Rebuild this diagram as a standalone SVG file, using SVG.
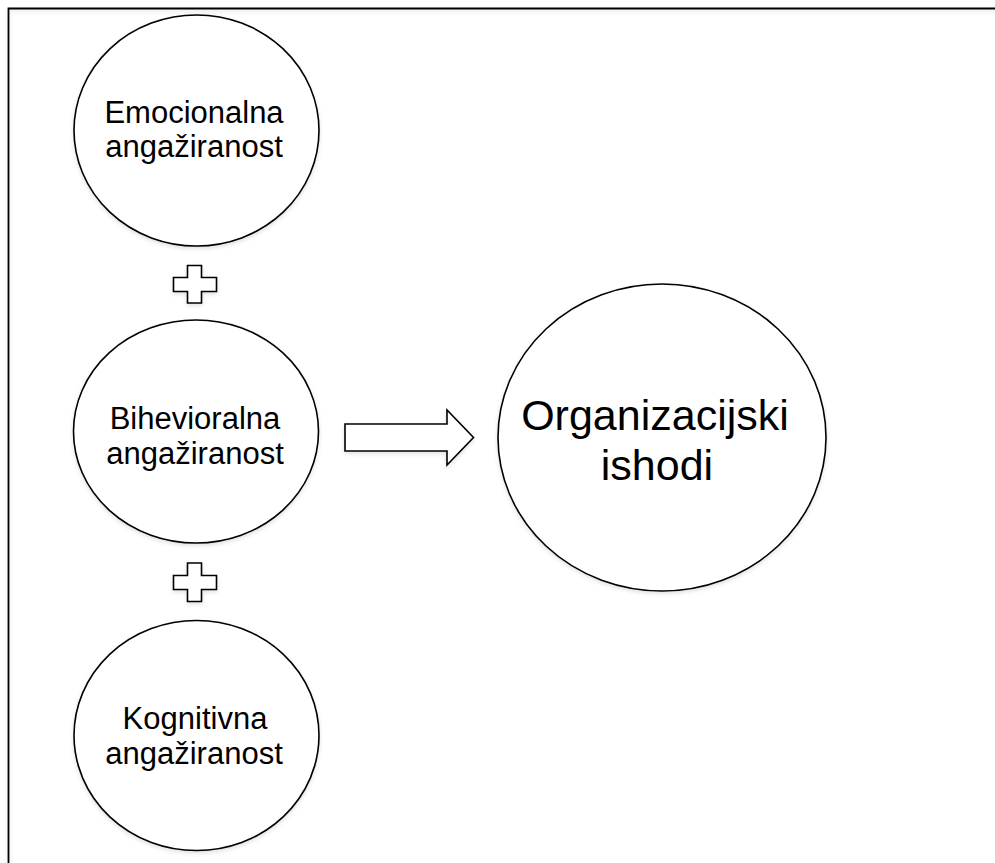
<svg xmlns="http://www.w3.org/2000/svg" width="995" height="863" viewBox="0 0 995 863">
  <defs>
    <filter id="sh" x="-10%" y="-10%" width="130%" height="130%">
      <feDropShadow dx="0" dy="2" stdDeviation="2" flood-color="#000" flood-opacity="0.12"/>
    </filter>
  </defs>
  <style>
    .shape { fill: #ffffff; stroke: #000000; stroke-width: 1.6; }
    .lbl { font-family: "Liberation Sans", Arial, sans-serif; font-size: 31px; fill: #000000; text-anchor: middle; }
    .big { font-size: 43px; }
  </style>
  <rect x="0" y="0" width="995" height="863" fill="#ffffff"/>
  <g id="frame">
    <path d="M8.5,1000 V8.5 H1000" fill="none" stroke="#000" stroke-width="1.8" filter="url(#sh)"/>
  </g>
  <g id="node-emocionalna">
    <ellipse class="shape" cx="196.5" cy="130.5" rx="122.5" ry="115.5" filter="url(#sh)"/>
    <text class="lbl" x="194" y="122.5">Emocionalna</text>
    <text class="lbl" x="194" y="157">angažiranost</text>
  </g>
  <g id="node-bihevioralna">
    <ellipse class="shape" cx="196" cy="431.5" rx="122.5" ry="111.5" filter="url(#sh)"/>
    <text class="lbl" x="195" y="428.5">Bihevioralna</text>
    <text class="lbl" x="195" y="463.5">angažiranost</text>
  </g>
  <g id="node-kognitivna">
    <ellipse class="shape" cx="196.5" cy="735.5" rx="122.5" ry="115" filter="url(#sh)"/>
    <text class="lbl" x="195" y="728.5">Kognitivna</text>
    <text class="lbl" x="194" y="763.5">angažiranost</text>
  </g>
  <g id="node-organizacijski">
    <ellipse class="shape" cx="662" cy="437.5" rx="164" ry="153.5" filter="url(#sh)"/>
    <text class="lbl big" x="655" y="430">Organizacijski</text>
    <text class="lbl big" x="657" y="479.5">ishodi</text>
  </g>
  <g id="connectors">
    <polygon id="plus1" class="shape" filter="url(#sh)" points="187.5,265.5 201.5,265.5 201.5,277.5 216.5,277.5 216.5,291.5 201.5,291.5 201.5,303 187.5,303 187.5,291.5 173.5,291.5 173.5,277.5 187.5,277.5"/>
    <polygon id="plus2" class="shape" filter="url(#sh)" points="187.5,563 201.5,563 201.5,575.5 216.5,575.5 216.5,589.5 201.5,589.5 201.5,601.5 187.5,601.5 187.5,589.5 173.5,589.5 173.5,575.5 187.5,575.5"/>
    <polygon id="arrow" class="shape" filter="url(#sh)" points="345,424 447,424 447,410 473.5,437.5 447,465 447,451 345,451"/>
  </g>
</svg>
